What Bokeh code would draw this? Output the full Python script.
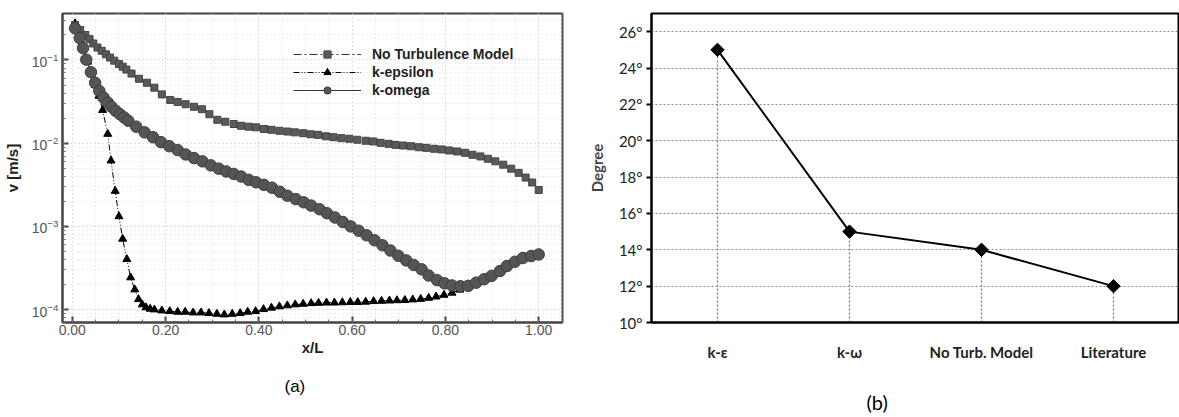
import math
from bokeh.plotting import figure
from bokeh.layouts import row
from bokeh.models import (Range1d, FactorRange, Legend, LegendItem, Title,
                          SingleIntervalTicker, FixedTicker, NumeralTickFormatter, LogTicker)
from bokeh.embed import file_html
from bokeh.resources import INLINE

# ---------------- data: panel (a) ----------------
nt_x = [0.006, 0.017, 0.028, 0.037, 0.045, 0.054, 0.063, 0.072, 0.081, 0.090,
        0.100, 0.108, 0.116, 0.127, 0.143, 0.160, 0.176, 0.192, 0.210, 0.226,
        0.243, 0.261, 0.278, 0.294, 0.311, 0.328, 0.346, 0.362, 0.378, 0.394,
        0.411, 0.427, 0.444, 0.461, 0.477, 0.495, 0.511, 0.527, 0.544, 0.560,
        0.577, 0.594, 0.611, 0.629, 0.645, 0.661, 0.678, 0.693, 0.709, 0.726,
        0.743, 0.759, 0.776, 0.792, 0.808, 0.825, 0.842, 0.858, 0.875, 0.891,
        0.907, 0.924, 0.941, 0.957, 0.972, 0.986, 1.000]
nt_v = [0.263, 0.229, 0.200, 0.178, 0.158, 0.141, 0.129, 0.117, 0.107, 0.0982,
        0.0895, 0.0832, 0.0767, 0.0687, 0.0594, 0.0532, 0.0465, 0.0386, 0.0331, 0.0313,
        0.0294, 0.0274, 0.0256, 0.0223, 0.0191, 0.0181, 0.0170, 0.0162, 0.0158, 0.0155,
        0.0148, 0.0145, 0.0141, 0.0138, 0.0135, 0.0132, 0.0128, 0.0126, 0.0121, 0.0118,
        0.0115, 0.0113, 0.0110, 0.0107, 0.0105, 0.0101, 0.00982, 0.00955, 0.00938, 0.00920,
        0.00895, 0.00879, 0.00857, 0.00841, 0.00818, 0.00796, 0.00767, 0.00726, 0.00693, 0.00650,
        0.00605, 0.00552, 0.00494, 0.00440, 0.00386, 0.00337, 0.00274]

ke_x = [0.006, 0.015, 0.024, 0.033, 0.041, 0.049, 0.057, 0.065, 0.076, 0.083,
        0.092, 0.100, 0.108, 0.117, 0.125, 0.134, 0.142, 0.150, 0.158, 0.167,
        0.176, 0.192, 0.209, 0.226, 0.242, 0.259, 0.276, 0.293, 0.310, 0.326,
        0.343, 0.360, 0.376, 0.393, 0.410, 0.427, 0.444, 0.461, 0.478, 0.495,
        0.512, 0.528, 0.545, 0.562, 0.579, 0.596, 0.612, 0.629, 0.646, 0.663,
        0.680, 0.696, 0.713, 0.730, 0.747, 0.764, 0.780, 0.797, 0.814, 0.831,
        0.847, 0.864]
ke_v = [0.275, 0.190, 0.140, 0.095, 0.068, 0.050, 0.037, 0.025, 0.0129, 0.00617,
        0.00266, 0.00132, 0.000708, 0.000403, 0.000243, 0.000174, 0.000133, 0.000115, 0.000106, 0.000102,
        0.000100, 0.0000973, 0.0000955, 0.0000938, 0.0000938, 0.0000920, 0.0000920, 0.0000904, 0.0000887, 0.0000871,
        0.0000887, 0.0000904, 0.0000938, 0.0000955, 0.000101, 0.000105, 0.000109, 0.000112, 0.000115, 0.000117,
        0.000119, 0.000120, 0.000121, 0.000121, 0.000122, 0.000123, 0.000123, 0.000124, 0.000126, 0.000127,
        0.000128, 0.000129, 0.000130, 0.000132, 0.000134, 0.000138, 0.000143, 0.000150, 0.000159, 0.000173,
        0.000188, 0.000205]

ko_x = [0.006, 0.016, 0.023, 0.030, 0.040, 0.049, 0.058, 0.067, 0.076, 0.084,
        0.093, 0.102, 0.111, 0.120, 0.137, 0.155, 0.173, 0.190, 0.208, 0.226,
        0.243, 0.261, 0.279, 0.297, 0.314, 0.330, 0.346, 0.362, 0.378, 0.394,
        0.411, 0.428, 0.445, 0.461, 0.479, 0.496, 0.512, 0.530, 0.546, 0.563,
        0.580, 0.597, 0.614, 0.631, 0.648, 0.665, 0.682, 0.699, 0.716, 0.732,
        0.749, 0.764, 0.782, 0.798, 0.814, 0.832, 0.849, 0.866, 0.883, 0.899,
        0.917, 0.932, 0.949, 0.966, 0.984, 1.000]
ko_v = [0.240, 0.183, 0.139, 0.101, 0.0713, 0.0532, 0.0424, 0.0353, 0.0308, 0.0274,
        0.0245, 0.0223, 0.0204, 0.0186, 0.0158, 0.0135, 0.0118, 0.0103, 0.0092, 0.00826,
        0.00733, 0.00662, 0.00605, 0.00542, 0.00494, 0.00457, 0.00427, 0.00398, 0.00363, 0.00339,
        0.00316, 0.00292, 0.00261, 0.00234, 0.00213, 0.00195, 0.00178, 0.00161, 0.00144, 0.00128,
        0.00113, 0.00100, 0.000887, 0.000782, 0.000681, 0.000594, 0.000513, 0.000444, 0.000390, 0.000344,
        0.000305, 0.000257, 0.000226, 0.000207, 0.000195, 0.000191, 0.000193, 0.000211, 0.000232, 0.000254,
        0.000291, 0.000334, 0.000376, 0.000417, 0.000440, 0.000460]

series_names = ["No Turbulence Model", "k-epsilon", "k-omega"]

# ---------------- data: panel (b) ----------------
methods = ["k-\u03b5", "k-\u03c9", "No Turb. Model", "Literature"]
degrees = [25, 15, 14, 12]
deg_ticks = [10, 12, 14, 16, 18, 20, 22, 24, 26]
deg_labels = {t: f"{t}\u00b0" for t in deg_ticks}

SANS = "Liberation Sans"
CAL = "Lato"

# ================= panel (a) =================
pa = figure(width=580, height=417, y_axis_type="log",
            x_range=Range1d(-0.021, 1.051), y_range=Range1d(7.0e-5, 0.362),
            output_backend="svg", toolbar_location=None,
            min_border_left=57, min_border_right=18, min_border_top=10, min_border_bottom=95)
pa.outline_line_color = "#444444"
pa.outline_line_width = 2

pa.xaxis.ticker = SingleIntervalTicker(interval=0.2, num_minor_ticks=4)
pa.xaxis.formatter = NumeralTickFormatter(format="0.00")
pa.yaxis.ticker = LogTicker(num_minor_ticks=10)
for ax in (pa.xaxis[0], pa.yaxis[0]):
    ax.axis_line_width = 2
    ax.axis_line_color = "#444444"
    ax.major_tick_in = 6
    ax.major_tick_out = 0
    ax.minor_tick_in = 3
    ax.minor_tick_out = 0
    ax.major_tick_line_color = "#444444"
    ax.major_tick_line_width = 2
    ax.minor_tick_line_color = "#666666"
    ax.major_label_text_font = SANS
    ax.major_label_text_font_size = "14px"
    ax.major_label_text_color = "#555555"
    ax.axis_label_text_font = SANS
    ax.axis_label_text_font_style = "bold"
    ax.axis_label_text_font_size = "15px"
    ax.axis_label_text_color = "#222222"
pa.xaxis.axis_label = "x/L"
pa.yaxis.axis_label = "v [m/s]"
pa.xaxis.major_label_standoff = 2
pa.xaxis.axis_label_standoff = 1
pa.yaxis.major_label_standoff = 4
pa.yaxis.axis_label_standoff = 8

for g in (pa.xgrid[0], pa.ygrid[0]):
    g.grid_line_color = "#cfcfcf"
    g.grid_line_dash = "1 3"
    g.minor_grid_line_color = "#dedede"
    g.minor_grid_line_dash = "1 3"

ke_line = pa.line(ke_x, ke_v, line_color="black", line_width=1, line_dash="6 2 1 2 1 2")
ke_pts = pa.scatter(ke_x, ke_v, marker="triangle", size=8, fill_color="black", line_color="black")
nt_line = pa.line(nt_x, nt_v, line_color="#333333", line_width=1, line_dash="8 3 2 3")
nt_pts = pa.scatter(nt_x, nt_v, marker="square", size=7, fill_color="#5a5a5a", line_color="#444444")
ko_line = pa.line(ko_x, ko_v, line_color="#333333", line_width=1)
ko_pts = pa.scatter(ko_x, ko_v, marker="circle", size=11.5, fill_color="#555555", line_color="#3e3e3e")

legend = Legend(items=[
    LegendItem(label=series_names[0], renderers=[nt_line, nt_pts]),
    LegendItem(label=series_names[1], renderers=[ke_line, ke_pts]),
    LegendItem(label=series_names[2], renderers=[ko_line, ko_pts]),
], location=(231, 223))
legend.glyph_width = 68
legend.glyph_height = 18
legend.label_height = 18
legend.spacing = 0
legend.padding = 0
legend.margin = 0
legend.label_standoff = 11
legend.border_line_color = None
legend.background_fill_alpha = 0
legend.label_text_font = SANS
legend.label_text_font_style = "bold"
legend.label_text_font_size = "14px"
legend.label_text_color = "#222222"
pa.add_layout(legend)

pa.add_layout(Title(text="(a)", align="left", offset=222, standoff=32,
                    text_font=SANS, text_font_size="17px", text_font_style="normal",
                    text_color="black"), "below")

# ================= panel (b) =================
pb = figure(width=599, height=417, x_range=FactorRange(*methods), y_range=Range1d(10, 27),
            output_backend="svg", toolbar_location=None,
            min_border_left=71, min_border_right=0, min_border_top=13, min_border_bottom=91)
pb.outline_line_color = "black"
pb.outline_line_width = 2
pb.xgrid.grid_line_color = None
pb.ygrid.ticker = FixedTicker(ticks=deg_ticks[1:])
pb.ygrid.grid_line_color = "#888888"
pb.ygrid.grid_line_dash = "2 2"
pb.ygrid.grid_line_width = 1.2

pb.yaxis.ticker = FixedTicker(ticks=deg_ticks)
pb.yaxis.major_label_overrides = deg_labels
pb.yaxis.minor_tick_line_color = None
pb.yaxis.major_tick_in = 0
pb.yaxis.major_tick_out = 5
pb.yaxis.major_tick_line_width = 2
pb.yaxis.axis_label = "Degree"
pb.xaxis.major_tick_line_color = None
pb.xaxis.minor_tick_line_color = None
pb.xaxis.major_label_standoff = 14
# blank (non-breaking space) axis label: reserves room so the caption sits lower
pb.xaxis.axis_label = "\u00a0"
for ax in (pb.xaxis[0], pb.yaxis[0]):
    ax.axis_line_width = 2
    ax.axis_line_color = "black"
    ax.major_label_text_font = CAL
    ax.major_label_text_font_size = "15px"
    ax.major_label_text_color = "#222222"
    ax.axis_label_text_font = CAL
    ax.axis_label_text_font_style = "bold"
    ax.axis_label_text_font_size = "15px"
pb.xaxis.major_label_text_font_style = "bold"
pb.xaxis.axis_label_standoff = 3
pb.yaxis.major_label_standoff = 4
pb.yaxis.axis_label_standoff = 10

pb.segment(x0=methods, y0=[deg_ticks[0]] * len(methods), x1=methods, y1=degrees,
           line_color="#777777", line_dash="2 2", line_width=1.2)
pb.line(methods, degrees, line_color="black", line_width=2)
pb.scatter(methods, degrees, marker="square", angle=math.pi / 4, size=9.5,
           fill_color="black", line_color="black")

pb.add_layout(Title(text="(b)", align="left", offset=215, standoff=0,
                    text_font=CAL, text_font_size="20px", text_font_style="normal",
                    text_color="black"), "below")

layout = row(pa, pb)
open("out.html", "w").write(file_html(layout, INLINE))
